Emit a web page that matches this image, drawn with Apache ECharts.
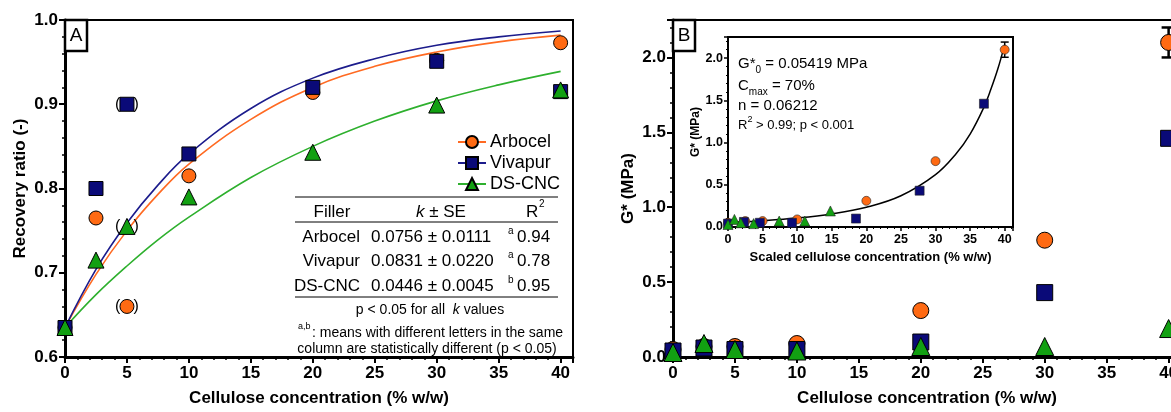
<!DOCTYPE html>
<html><head><meta charset="utf-8">
<script src="https://cdn.jsdelivr.net/npm/echarts@6/dist/echarts.min.js"></script>
<style>html,body{margin:0;padding:0;background:#fff}#c{width:1171px;height:412px}</style>
</head><body><div id="c"></div>
<script>
// ---------- DATA ----------
const conc = [0, 2.5, 5, 10, 20, 30, 40];
// Panel A: recovery ratio
const recArbocel = [0.635, 0.765, 0.660, 0.815, 0.914, 0.952, 0.973];
const recVivapur = [0.635, 0.800, 0.900, 0.841, 0.920, 0.951, 0.915];
const recDSCNC   = [0.635, 0.715, 0.755, 0.790, 0.843, 0.899, 0.917];
const bracketedConc = [5]; // points shown in parentheses
// fitted curves
const fitX        = [0, 2.5, 5, 7.5, 10, 15, 20, 25, 30, 35, 40];
const fitArbocel  = [0.635, 0.698, 0.750, 0.793, 0.829, 0.882, 0.920, 0.945, 0.962, 0.974, 0.982];
const fitVivapur  = [0.635, 0.704, 0.759, 0.804, 0.841, 0.895, 0.931, 0.954, 0.970, 0.980, 0.987];
const fitDSCNC    = [0.635, 0.674, 0.708, 0.739, 0.766, 0.813, 0.850, 0.880, 0.904, 0.923, 0.939];
// Panel B: G* (MPa)
const gArbocel = [0.05, 0.07, 0.07, 0.09, 0.31, 0.78, 2.10];
const gVivapur = [0.04, 0.06, 0.05, 0.05, 0.10, 0.43, 1.46];
const gDSCNC   = [0.03, 0.09, 0.05, 0.04, 0.07, 0.07, 0.19];
const gErrArbocel = [0, 0, 0, 0, 0, 0, 0.10];
// Inset: scaled concentration
const scaledArbocel = [0, 2.5, 5, 10, 20, 30, 40];
const scaledVivapur = [0, 2.3, 4.6, 9.25, 18.5, 27.7, 37];
const scaledDSCNC   = [0, 0.93, 1.85, 3.7, 7.4, 11.1, 14.8];
const fitGX = [0, 5, 10, 15, 20, 25, 30, 33, 35, 37, 38, 39, 40];
const fitG  = [0.054, 0.075, 0.106, 0.155, 0.234, 0.37, 0.62, 0.87, 1.10, 1.42, 1.63, 1.87, 2.16];
// Tick values
const ticksConc = [0, 5, 10, 15, 20, 25, 30, 35, 40];
// Table text
const tableHeader = ['Filler', 'k', ' ± SE', 'R', '2'];
const tableRows = [
  ['Arbocel', '0.0756 ± 0.0111', 'a', '0.94'],
  ['Vivapur', '0.0831 ± 0.0220', 'a', '0.78'],
  ['DS-CNC',  '0.0446 ± 0.0045', 'b', '0.95']
];
const seriesNames = ['Arbocel', 'Vivapur', 'DS-CNC'];

// ---------- STYLE ----------
const FF = '"Liberation Sans", Arial, Helvetica, sans-serif';
const C_OR = '#ff6a13', C_BL = '#0a0a78', C_GR = '#12a012';
const L_OR = '#ff6a22', L_BL = '#1c1c8c', L_GR = '#2eb02e';
const sym = ['circle', 'rect', 'triangle'];
const cols = [C_OR, C_BL, C_GR];
const lcols = [L_OR, L_BL, L_GR];

const pair = (xs, ys) => xs.map((x, i) => [x, ys[i]]);

function axisCommon(extra) {
  return Object.assign({
    axisLine: { show: true, onZero: false, lineStyle: { color: '#000', width: 3 } },
    axisTick: { show: true, inside: false, length: 6, lineStyle: { color: '#000', width: 2 } },
    minorTick: { show: true, splitNumber: 5, length: 3, lineStyle: { color: '#000', width: 1.5 } },
    splitLine: { show: false },
    axisLabel: { color: '#000', fontFamily: FF, fontWeight: 'bold', fontSize: 17, margin: 8, showMaxLabel: false },
    nameTextStyle: { color: '#000', fontFamily: FF, fontWeight: 'bold', fontSize: 17 },
    nameLocation: 'middle'
  }, extra);
}

const chart = echarts.init(document.getElementById('c'), null, { renderer: 'canvas' });

const recSets = [recArbocel, recVivapur, recDSCNC];
const fitSets = [fitArbocel, fitVivapur, fitDSCNC];
const gSets = [gArbocel, gVivapur, gDSCNC];
const scaledSets = [scaledArbocel, scaledVivapur, scaledDSCNC];

const series = [];
// Panel A fit lines (also provide legend icons)
fitSets.forEach((f, i) => {
  series.push({
    type: 'line', name: seriesNames[i], xAxisIndex: 0, yAxisIndex: 0,
    data: pair(fitX, f), smooth: 0.4, showSymbol: false,
    symbol: sym[i], symbolSize: 14,
    itemStyle: { color: cols[i], borderColor: '#000', borderWidth: 1 },
    lineStyle: { color: lcols[i], width: 1.6 }, z: 2, silent: true
  });
});
// Panel A points
recSets.forEach((r, i) => {
  series.push({
    type: 'scatter', name: seriesNames[i], xAxisIndex: 0, yAxisIndex: 0,
    symbol: sym[i], symbolSize: i === 2 ? 16 : 14,
    itemStyle: { color: cols[i], borderColor: '#000', borderWidth: 1, opacity: 1 },
    data: conc.map((x, k) => {
      const d = { value: [x, r[k]] };
      if (bracketedConc.includes(x)) {
        d.label = { show: true, position: 'inside', formatter: '(   )', color: '#000',
                    fontFamily: FF, fontSize: 16 };
      }
      return d;
    }),
    z: 3
  });
});
// Error bars
function errRender(cap) {
  return function (params, api) {
    const x = api.value(0), lo = api.value(1), hi = api.value(2);
    const a = api.coord([x, hi]), b = api.coord([x, lo]);
    const st = { stroke: '#000', lineWidth: cap > 9 ? 2.5 : 1.5 };
    return { type: 'group', children: [
      { type: 'line', shape: { x1: a[0], y1: a[1], x2: b[0], y2: b[1] }, style: st },
      { type: 'line', shape: { x1: a[0] - cap / 2, y1: a[1], x2: a[0] + cap / 2, y2: a[1] }, style: st },
      { type: 'line', shape: { x1: b[0] - cap / 2, y1: b[1], x2: b[0] + cap / 2, y2: b[1] }, style: st }
    ]};
  };
}
const errMain = conc.map((x, k) => gErrArbocel[k] ? [x, gArbocel[k] - gErrArbocel[k], gArbocel[k] + gErrArbocel[k]] : null).filter(Boolean);
const errInset = scaledArbocel.map((x, k) => gErrArbocel[k] ? [x, gArbocel[k] - gErrArbocel[k] * 0.9, gArbocel[k] + gErrArbocel[k] * 0.9] : null).filter(Boolean);
series.push({ type: 'custom', xAxisIndex: 1, yAxisIndex: 1, renderItem: errRender(14), data: errMain, z: 2, silent: true, clip: false });
gSets.forEach((g, i) => {
  series.push({
    type: 'scatter', name: seriesNames[i], xAxisIndex: 1, yAxisIndex: 1,
    symbol: sym[i], symbolSize: i === 2 ? 18 : 16,
    itemStyle: { color: cols[i], borderColor: '#000', borderWidth: 1, opacity: 1 },
    data: pair(conc, g), z: 3
  });
});
// Inset
series.push({
  type: 'line', xAxisIndex: 2, yAxisIndex: 2, data: pair(fitGX, fitG), smooth: 0.4,
  showSymbol: false, lineStyle: { color: '#000', width: 1.5 }, z: 5, silent: true
});
series.push({ type: 'custom', xAxisIndex: 2, yAxisIndex: 2, renderItem: errRender(8), data: errInset, z: 5, silent: true });
gSets.forEach((g, i) => {
  series.push({
    type: 'scatter', name: seriesNames[i], xAxisIndex: 2, yAxisIndex: 2,
    symbol: sym[i], symbolSize: i === 2 ? 10 : 9,
    itemStyle: { color: cols[i], borderColor: '#222', borderWidth: 0.6, opacity: 1 },
    data: pair(scaledSets[i], g), z: 6
  });
});

// ---------- GRAPHIC (panel letters, table, inset text) ----------
const txt = (x, y, text, opt) => Object.assign({
  type: 'text', x: x, y: y, z: 100,
  style: Object.assign({ text: text, fill: '#000', fontFamily: FF, fontSize: 17,
    textAlign: 'left', textVerticalAlign: 'middle' }, opt || {})
});
const hline = (x1, x2, y) => ({ type: 'line', z: 100, shape: { x1: x1, y1: y, x2: x2, y2: y }, style: { stroke: '#000', lineWidth: 1 } });

const graphics = [];
// panel letters
[[65, 'A'], [673, 'B']].forEach(([x, L]) => {
  graphics.push({ type: 'rect', z: 100, shape: { x: x, y: 20, width: 22, height: 31 },
    style: { fill: '#fff', stroke: '#000', lineWidth: 2.5 } });
  graphics.push(txt(x + 11, 36, L, { textAlign: 'center', fontSize: 19 }));
});
// table
graphics.push(hline(295, 558, 197));
graphics.push(txt(332, 212, tableHeader[0], { textAlign: 'center' }));
graphics.push(txt(416, 212, '{i|' + tableHeader[1] + '}{n|' + tableHeader[2] + '}', {
  rich: { i: { fontStyle: 'italic', fontFamily: FF, fontSize: 17 }, n: { fontFamily: FF, fontSize: 17 } } }));
graphics.push(txt(526, 212, tableHeader[3]));
graphics.push(txt(539, 204, tableHeader[4], { fontSize: 10 }));
graphics.push(hline(295, 558, 222));
tableRows.forEach((r, k) => {
  const y = 237 + k * 24.5;
  graphics.push(txt(360, y, r[0], { textAlign: 'right' }));
  graphics.push(txt(371, y, r[1]));
  graphics.push(txt(508, y - 6, r[2], { fontSize: 10 }));
  graphics.push(txt(517, y, r[3]));
});
graphics.push(hline(295, 558, 297));
graphics.push(txt(430, 310, '{n|p < 0.05 for all  }{i|k}{n| values}', { textAlign: 'center',
  rich: { i: { fontStyle: 'italic', fontFamily: FF, fontSize: 14 }, n: { fontFamily: FF, fontSize: 14 } } }));
graphics.push(txt(298, 327, 'a,b', { fontSize: 9 }));
graphics.push(txt(312, 333, ': means with different letters in the same', { fontSize: 14 }));
graphics.push(txt(427, 349, 'column are statistically different (p < 0.05)', { fontSize: 14, textAlign: 'center' }));
// inset annotation
const sub = { fontFamily: FF, fontSize: 10, verticalAlign: 'bottom', lineHeight: 12 };
const nrm = { fontFamily: FF, fontSize: 15, lineHeight: 22 };
graphics.push(txt(738, 64, '{n|G*}{s|0}{n| = 0.05419 MPa}', { rich: { n: nrm, s: sub } }));
graphics.push(txt(738, 86, '{n|C}{s|max}{n| = 70%}', { rich: { n: nrm, s: sub } }));
graphics.push(txt(738, 106, 'n = 0.06212', { fontSize: 15 }));
graphics.push(txt(738, 125, '{n|R}{p|2}{n| > 0.99; p < 0.001}', { rich: {
  n: { fontFamily: FF, fontSize: 13, lineHeight: 20 },
  p: { fontFamily: FF, fontSize: 9, verticalAlign: 'top', lineHeight: 10 } } }));

const option = {
  animation: false,
  backgroundColor: '#fff',
  textStyle: { fontFamily: FF },
  legend: {
    data: seriesNames, orient: 'vertical', left: 452, top: 128, itemGap: 3,
    itemWidth: 28, itemHeight: 15, selectedMode: false,
    textStyle: { color: '#000', fontFamily: FF, fontSize: 18, padding: [0, 0, 0, -1] }
  },
  grid: [
    { left: 65, top: 20, width: 508, height: 337, show: true, borderColor: '#000', borderWidth: 2,
      backgroundColor: 'transparent', outerBoundsMode: 'none', containLabel: false },
    { left: 673, top: 20, width: 508, height: 337, show: true, borderColor: '#000', borderWidth: 2,
      backgroundColor: 'transparent', outerBoundsMode: 'none', containLabel: false },
    { left: 728, top: 37, width: 285, height: 190, show: true, borderColor: '#000', borderWidth: 2,
      backgroundColor: '#fff', z: 4, outerBoundsMode: 'none', containLabel: false }
  ],
  xAxis: [
    axisCommon({ gridIndex: 0, type: 'value', min: 0, max: 41, interval: 5,
      name: 'Cellulose concentration (% w/w)', nameGap: 33 }),
    axisCommon({ gridIndex: 1, type: 'value', min: 0, max: 41, interval: 5,
      axisTick: { show: true, inside: false, length: 6, lineStyle: { color: '#000', width: 2 }, customValues: ticksConc },
      name: 'Cellulose concentration (% w/w)', nameGap: 33 }),
    axisCommon({ gridIndex: 2, type: 'value', min: 0, max: 41.2, interval: 5, z: 5,
      axisLine: { show: true, onZero: false, lineStyle: { color: '#000', width: 2 } },
      axisTick: { show: true, length: 4, lineStyle: { color: '#000', width: 1.5 } },
      minorTick: { show: true, splitNumber: 5, length: 2, lineStyle: { color: '#000', width: 1 } },
      axisLabel: { color: '#000', fontFamily: FF, fontWeight: 'bold', fontSize: 12.5, margin: 6, showMaxLabel: false },
      name: 'Scaled cellulose concentration (% w/w)', nameGap: 24,
      nameTextStyle: { color: '#000', fontFamily: FF, fontWeight: 'bold', fontSize: 13 } })
  ],
  yAxis: [
    axisCommon({ gridIndex: 0, type: 'value', min: 0.6, max: 1.0, interval: 0.1,
      axisLabel: { color: '#000', fontFamily: FF, fontWeight: 'bold', fontSize: 17, margin: 7,
        formatter: v => v.toFixed(1) },
      name: 'Recovery ratio (-)', nameGap: 36 }),
    axisCommon({ gridIndex: 1, type: 'value', min: 0, max: 2.25, interval: 0.5,
      axisLabel: { color: '#000', fontFamily: FF, fontWeight: 'bold', fontSize: 17, margin: 7, showMaxLabel: false,
        formatter: v => v.toFixed(1) },
      name: 'G* (MPa)', nameGap: 36 }),
    axisCommon({ gridIndex: 2, type: 'value', min: 0, max: 2.25, interval: 0.5, z: 5,
      axisLine: { show: true, onZero: false, lineStyle: { color: '#000', width: 2 } },
      axisTick: { show: true, length: 4, lineStyle: { color: '#000', width: 1.5 } },
      minorTick: { show: true, splitNumber: 5, length: 2, lineStyle: { color: '#000', width: 1 } },
      axisLabel: { color: '#000', fontFamily: FF, fontWeight: 'bold', fontSize: 12.5, margin: 5, showMaxLabel: false,
        formatter: v => v.toFixed(1) },
      name: 'G* (MPa)', nameGap: 25,
      nameTextStyle: { color: '#000', fontFamily: FF, fontWeight: 'bold', fontSize: 12 } })
  ],
  series: series,
  graphic: graphics
};
chart.setOption(option);
</script>
</body></html>
